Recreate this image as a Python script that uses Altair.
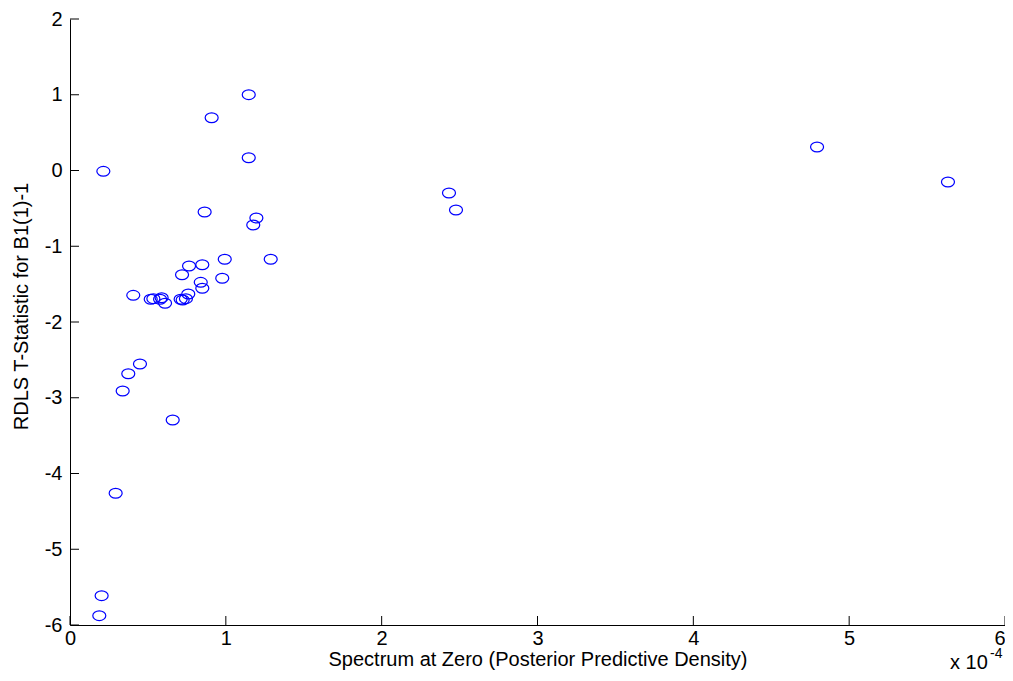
import altair as alt
import pandas as pd

# Spectrum at zero (units of 1e-4)
spectrum = [1.147, 0.909, 1.147, 0.214, 0.864, 1.196, 1.176, 1.288, 0.993, 0.849,
            0.764, 0.719, 0.977, 0.839, 0.849, 0.406, 0.759, 0.518, 0.535, 0.588,
            0.578, 0.610, 0.710, 0.723, 0.744, 0.449, 0.374, 0.338, 0.659, 0.293,
            0.203, 0.188, 2.432, 2.477, 4.794, 5.634]
# RDLS t-statistic
tstat = [1.001, 0.697, 0.169, -0.011, -0.548, -0.627, -0.719, -1.172, -1.172, -1.244,
         -1.261, -1.376, -1.423, -1.476, -1.555, -1.648, -1.630, -1.700, -1.692, -1.679,
         -1.700, -1.753, -1.700, -1.710, -1.692, -2.554, -2.683, -2.911, -3.294, -4.261,
         -5.613, -5.877, -0.297, -0.521, 0.310, -0.152]

x_ticks = [0, 1, 2, 3, 4, 5, 6]
y_ticks = [-6, -5, -4, -3, -2, -1, 0, 1, 2]

W, H = 935, 606
FONT = "Liberation Sans"
TICK = 9

df = pd.DataFrame({"x": spectrum, "y": tstat})
xs = alt.Scale(domain=[0, 6], nice=False, zero=False)
ys = alt.Scale(domain=[-6, 2], nice=False, zero=False)

ellipse = "M-1,0A1,0.75,0,1,1,1,0A1,0.75,0,1,1,-1,0Z"

points = alt.Chart(df).mark_point(
    shape=ellipse, size=169, filled=False, color="#0000ff", strokeWidth=1.2, opacity=1
).encode(
    x=alt.X("x:Q", scale=xs, axis=alt.Axis(
        values=x_ticks, ticks=False, grid=False, domainColor="black",
        labelExpr="'' + datum.value",
        labelAlign=alt.condition("datum.value == 6", alt.value("right"), alt.value("center")),
        labelFont=FONT, labelFontSize=20, labelColor="black", labelPadding=3,
        title="Spectrum at Zero (Posterior Predictive Density)",
        titleFont=FONT, titleFontSize=20, titleFontWeight="normal", titleColor="black",
        titleBaseline="top", titleY=24, labelFlush=False, labelOverlap=False)),
    y=alt.Y("y:Q", scale=ys, axis=alt.Axis(
        values=y_ticks, ticks=False, grid=False, domainColor="black",
        labelExpr="'' + datum.value",
        labelFont=FONT, labelFontSize=20, labelColor="black", labelPadding=8,
        title="RDLS T-Statistic for B1(1)-1",
        titleFont=FONT, titleFontSize=20, titleFontWeight="normal", titleColor="black",
        titleX=-49, titleY=287, titleBaseline="middle", titleAlign="center",
        labelFlush=False, labelOverlap=False)),
)

xt = alt.Chart(pd.DataFrame({"v": x_ticks})).mark_rule(color="black", strokeWidth=1).encode(
    x=alt.X("v:Q", scale=xs), y=alt.value(H), y2=alt.value(H - TICK))
yt = alt.Chart(pd.DataFrame({"v": y_ticks})).mark_rule(color="black", strokeWidth=1).encode(
    y=alt.Y("v:Q", scale=ys), x=alt.value(0), x2=alt.value(TICK))

mult = alt.Chart(pd.DataFrame({"t": ["x 10"]})).mark_text(
    font=FONT, fontSize=20, align="left", baseline="alphabetic", color="black"
).encode(text="t:N", x=alt.value(880), y=alt.value(650))
expo = alt.Chart(pd.DataFrame({"t": ["-4"]})).mark_text(
    font=FONT, fontSize=14, align="left", baseline="alphabetic", color="black"
).encode(text="t:N", x=alt.value(920), y=alt.value(639))

chart = alt.layer(points, xt, yt, mult, expo).properties(
    width=W, height=H,
    background="white",
    autosize=alt.AutoSizeParams(type="none"),
    padding={"left": 62, "top": 11, "right": 0, "bottom": 47},
).configure_view(strokeWidth=0, stroke="transparent")

chart.save("out.html", embed_options={"renderer": "svg", "actions": False})
